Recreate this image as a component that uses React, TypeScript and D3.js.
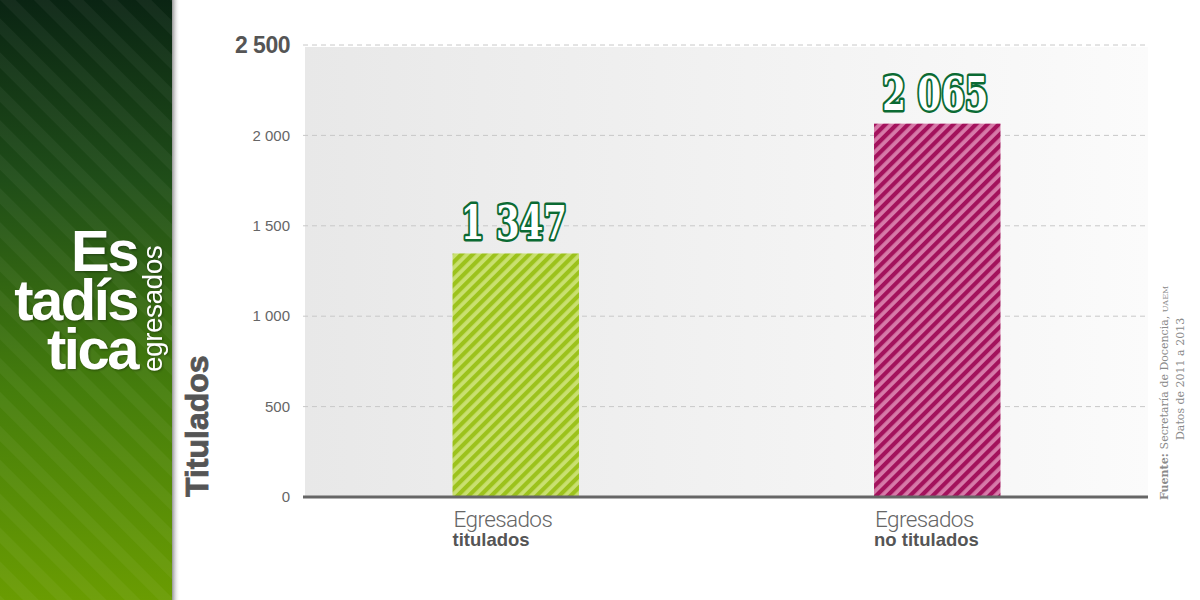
import { useRef, useEffect } from 'react'
import * as d3 from 'd3'

const categories = ['Egresados|titulados', 'Egresados|no titulados']
const values = [1347, 2065]
const barColors = [
  { dark: '#9cc21c', light: '#c9e070' },
  { dark: '#a3125c', light: '#d77aa9' },
]
const yTicks = [0, 500, 1000, 1500, 2000, 2500]
const titleLines = ['Es', 'tadís', 'tica']
const sourceLines = ['Secretaría de Docencia, UAEM', 'Datos de 2011 a 2013']

const fmt = (v: number) => d3.format(',')(v).replace(/,/g, ' ')

export default function App() {
  const svgRef = useRef<SVGSVGElement>(null)

  useEffect(() => {
    document.body.style.margin = '0'
    if (!svgRef.current) return
    const W = 1200
    const H = 600
    const svg = d3.select(svgRef.current)
    svg.selectAll('*').remove()

    const defs = svg.append('defs')

    // left panel gradient + stripes
    const lg = defs.append('linearGradient').attr('id', 'side').attr('x1', 0).attr('y1', 0).attr('x2', 0).attr('y2', 1)
    lg.append('stop').attr('offset', '0%').attr('stop-color', '#0a2413')
    lg.append('stop').attr('offset', '30%').attr('stop-color', '#1f4d18')
    lg.append('stop').attr('offset', '65%').attr('stop-color', '#457d0c')
    lg.append('stop').attr('offset', '100%').attr('stop-color', '#6a9c02')

    const sideStripe = defs.append('pattern').attr('id', 'sideStripe')
      .attr('patternUnits', 'userSpaceOnUse').attr('width', 24).attr('height', 24)
      .attr('patternTransform', 'rotate(-45)')
    sideStripe.append('rect').attr('width', 11).attr('height', 24).attr('fill', '#ffffff').attr('opacity', 0.045)

    const shadow = defs.append('linearGradient').attr('id', 'shadow')
    shadow.append('stop').attr('offset', '0%').attr('stop-color', '#888').attr('stop-opacity', 0.9)
    shadow.append('stop').attr('offset', '100%').attr('stop-color', '#fff').attr('stop-opacity', 0)

    const plotBg = defs.append('linearGradient').attr('id', 'plotBg')
    plotBg.append('stop').attr('offset', '0%').attr('stop-color', '#e8e8e8')
    plotBg.append('stop').attr('offset', '100%').attr('stop-color', '#fbfbfb')

    barColors.forEach((c, i) => {
      const p = defs.append('pattern').attr('id', `bar${i}`)
        .attr('patternUnits', 'userSpaceOnUse').attr('width', 8).attr('height', 8)
        .attr('patternTransform', 'rotate(45)')
      p.append('rect').attr('width', 8).attr('height', 8).attr('fill', c.light)
      p.append('rect').attr('width', 4.2).attr('height', 8).attr('fill', c.dark)
    })

    svg.append('rect').attr('width', W).attr('height', H).attr('fill', '#fff')

    // side panel
    svg.append('rect').attr('x', 172).attr('width', 8).attr('height', H).attr('fill', 'url(#shadow)')
    svg.append('rect').attr('width', 172).attr('height', H).attr('fill', 'url(#side)')
    svg.append('rect').attr('width', 172).attr('height', H).attr('fill', 'url(#sideStripe)')

    const tg = svg.append('g').attr('font-family', '"Liberation Sans", Arial, sans-serif')
      .attr('font-weight', 'bold').attr('fill', '#fff')
      .style('filter', 'drop-shadow(1px 1px 1px rgba(0,0,0,0.35))')
    tg.selectAll('text.title').data(titleLines).enter().append('text')
      .attr('class', 'title')
      .attr('x', 137).attr('y', (d, i) => 271 + i * 49)
      .attr('text-anchor', 'end').attr('font-size', 58).attr('letter-spacing', -2.5)
      .text(d => d)
    tg.append('text')
      .attr('transform', 'translate(162,372) rotate(-90)')
      .attr('font-size', 28).attr('font-weight', 'normal').attr('letter-spacing', -0.5)
      .text('egresados')

    // chart
    const x0 = 305
    const x1 = 1148
    const y = d3.scaleLinear().domain([0, 2500]).range([497, 45])
    const x = d3.scaleBand().domain(categories).range([x0, x1]).padding(0)
    const barW = x.bandwidth() * 0.3

    svg.append('rect').attr('x', x0).attr('y', y(2500) + 2).attr('width', x1 - x0)
      .attr('height', y(0) - y(2500) - 2).attr('fill', 'url(#plotBg)')

    svg.append('g').selectAll('line').data(yTicks.filter(t => t > 0)).enter().append('line')
      .attr('x1', x0 - 2).attr('x2', x1).attr('y1', d => y(d)).attr('y2', d => y(d))
      .attr('stroke', '#c8c8c8').attr('stroke-width', 1).attr('stroke-dasharray', '5,4')

    svg.append('g').selectAll('text').data(yTicks).enter().append('text')
      .attr('x', 290).attr('y', d => y(d)).attr('dy', '0.35em').attr('text-anchor', 'end')
      .attr('font-family', '"Liberation Sans", Arial, sans-serif')
      .attr('font-size', d => (d === 2500 ? 23 : 15))
      .attr('font-weight', d => (d === 2500 ? 'bold' : 'normal'))
      .attr('fill', d => (d === 2500 ? '#555' : '#666'))
      .attr('letter-spacing', d => (d === 2500 ? -0.5 : 0))
      .text(d => fmt(d))

    const bars = svg.append('g').selectAll('g').data(values).enter().append('g')
    bars.append('rect')
      .attr('x', (d, i) => x(categories[i])! + (x.bandwidth() - barW) / 2)
      .attr('y', d => y(d)).attr('width', barW).attr('height', d => y(0) - y(d))
      .attr('fill', (d, i) => `url(#bar${i})`)

    bars.append('text')
      .attr('x', (d, i) => x(categories[i])! + x.bandwidth() / 2 - 2)
      .attr('y', d => y(d) - 14)
      .attr('text-anchor', 'middle')
      .attr('font-family', '"DejaVu Serif", serif').attr('font-weight', 'bold')
      .attr('font-size', 46)
      .attr('textLength', 106).attr('lengthAdjust', 'spacingAndGlyphs')
      .attr('fill', '#fff').attr('stroke', '#0b6a33').attr('stroke-width', 5)
      .attr('stroke-linejoin', 'round').style('paint-order', 'stroke')
      .text(d => fmt(d))

    // category labels
    const cl = svg.append('g').selectAll('g').data(categories).enter().append('g')
      .attr('font-family', '"Liberation Sans", Arial, sans-serif')
    cl.append('text')
      .attr('x', d => x(d)! + (x.bandwidth() - barW) / 2 + 1).attr('y', 527)
      .attr('font-family', 'Roboto, sans-serif').attr('font-weight', 300)
      .attr('font-size', 22.5).attr('fill', '#666').attr('letter-spacing', -0.6)
      .text(d => d.split('|')[0])
    cl.append('text')
      .attr('x', d => x(d)! + (x.bandwidth() - barW) / 2).attr('y', 546)
      .attr('font-size', 18.5).attr('font-weight', 'bold').attr('fill', '#555')
      .text(d => d.split('|')[1])

    // base axis line
    svg.append('line').attr('x1', x0 - 2).attr('x2', x1).attr('y1', y(0)).attr('y2', y(0))
      .attr('stroke', '#666').attr('stroke-width', 3)

    // y axis title
    svg.append('text')
      .attr('transform', `translate(208,${y(0)}) rotate(-90)`)
      .attr('font-family', '"Liberation Sans", Arial, sans-serif').attr('font-weight', 'bold')
      .attr('font-size', 32).attr('fill', '#555').attr('stroke', '#555').attr('stroke-width', 0.8)
      .text('Titulados')

    // source
    const src = svg.append('g').attr('font-family', '"DejaVu Serif", serif').attr('font-size', 11).attr('fill', '#8a8a8a')
    const s1 = src.append('text').attr('transform', 'translate(1168,500) rotate(-90)')
    s1.append('tspan').attr('font-weight', 'bold').text('Fuente: ')
    s1.append('tspan').text(sourceLines[0].replace('UAEM', ''))
    s1.append('tspan').attr('font-size', 8).text('UAEM')
    src.append('text').attr('transform', 'translate(1184,440) rotate(-90)').text(sourceLines[1])
  }, [])

  return <svg ref={svgRef} width={1200} height={600} style={{ display: 'block' }} />
}
